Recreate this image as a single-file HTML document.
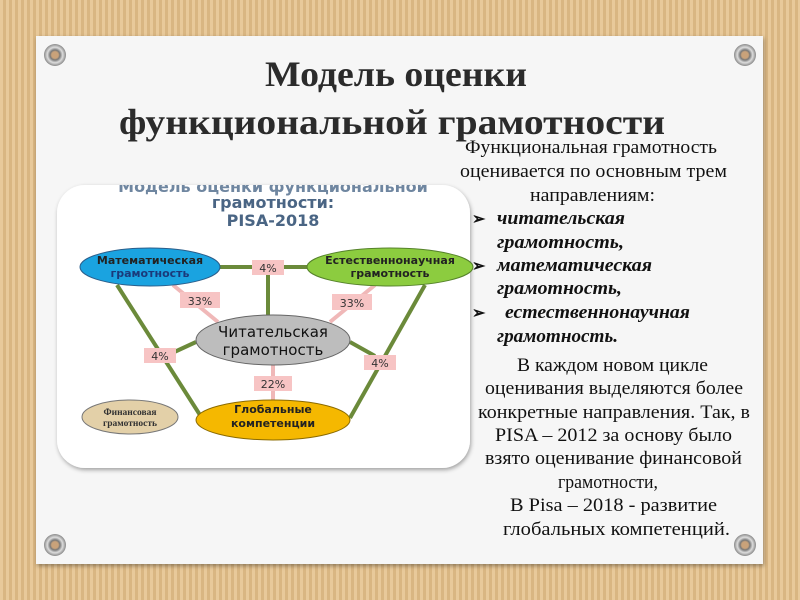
<!DOCTYPE html>
<html><head><meta charset="utf-8"><style>
html,body{margin:0;padding:0;width:800px;height:600px;overflow:hidden;}
body{background:#e2c08f;background-image:repeating-linear-gradient(90deg,#e8c99a 0 3px,#d9b682 3px 6px);}
</style></head><body>
<svg width="800" height="600" viewBox="0 0 800 600" xmlns="http://www.w3.org/2000/svg" style="position:absolute;left:0;top:0">
<defs>
<filter id="sh" x="-5%" y="-5%" width="110%" height="110%"><feDropShadow dx="1" dy="2" stdDeviation="2" flood-color="#000" flood-opacity="0.35"/></filter>
<radialGradient id="gr"><stop offset="0.3" stop-color="#c9a27a"/><stop offset="0.45" stop-color="#777"/><stop offset="0.7" stop-color="#ddd"/><stop offset="1" stop-color="#888"/></radialGradient>
<clipPath id="card"><rect x="57" y="185" width="413" height="283" rx="28"/></clipPath>
</defs>
<rect x="36" y="36" width="727" height="528" fill="#f6f6f6" filter="url(#sh)"/>
<g fill="url(#gr)">
<circle cx="55" cy="55" r="11"/><circle cx="745" cy="55" r="11"/><circle cx="55" cy="545" r="11"/><circle cx="745" cy="545" r="11"/>
</g>
<g font-family="Liberation Serif, serif" font-weight="bold" fill="#2b2b2b" font-size="36" text-anchor="middle">
<text x="396" y="86" textLength="262" lengthAdjust="spacingAndGlyphs">Модель оценки</text>
<text x="392" y="134" textLength="546" lengthAdjust="spacingAndGlyphs">функциональной грамотности</text>
</g>
<rect x="57" y="185" width="413" height="283" rx="28" fill="#fff" filter="url(#sh)"/>
<g clip-path="url(#card)" font-family="DejaVu Sans, sans-serif" font-weight="bold" fill="#4a6584" text-anchor="middle">
<text x="273" y="192" font-size="16" fill="#6f86a0">Модель оценки функциональной</text>
<text x="273" y="208" font-size="16">грамотности:</text>
<text x="273" y="226" font-size="16">PISA-2018</text>
</g>
<g stroke="#6b8a3a" stroke-width="4" fill="none">
<line x1="200" y1="267" x2="320" y2="267"/>
<line x1="268" y1="267" x2="268" y2="318"/>
<line x1="117" y1="285" x2="200" y2="415"/>
<line x1="425" y1="285" x2="350" y2="418"/>
<line x1="196" y1="342" x2="170" y2="354"/>
<line x1="350" y1="342" x2="375" y2="356"/>
</g>
<g stroke="#f0b8b8" stroke-width="4">
<line x1="173" y1="285" x2="218" y2="322"/>
<line x1="375" y1="285" x2="330" y2="322"/>
<line x1="273" y1="362" x2="273" y2="400"/>
</g>
<ellipse cx="150" cy="267" rx="70" ry="19" fill="#1aa3e0" stroke="#2a5d8a" stroke-width="1"/>
<ellipse cx="390" cy="267" rx="83" ry="19" fill="#8ccc3f" stroke="#55822a" stroke-width="1"/>
<ellipse cx="273" cy="340" rx="77" ry="25" fill="#bdbdbd" stroke="#666" stroke-width="1"/>
<ellipse cx="273" cy="420" rx="77" ry="20" fill="#f5b800" stroke="#8a6a00" stroke-width="1"/>
<ellipse cx="130" cy="417" rx="48" ry="17" fill="#e3d0a8" stroke="#777" stroke-width="1"/>
<g fill="#f7c4c4">
<rect x="252" y="260" width="32" height="15"/>
<rect x="180" y="292" width="40" height="16"/>
<rect x="332" y="294" width="40" height="16"/>
<rect x="144" y="348" width="32" height="15"/>
<rect x="364" y="355" width="32" height="15"/>
<rect x="254" y="376" width="38" height="15"/>
</g>
<g font-family="DejaVu Sans, sans-serif" font-size="11" fill="#333" text-anchor="middle">
<text x="268" y="272">4%</text>
<text x="200" y="305">33%</text>
<text x="352" y="307">33%</text>
<text x="160" y="360">4%</text>
<text x="380" y="367">4%</text>
<text x="273" y="388">22%</text>
</g>
<g font-family="DejaVu Sans, sans-serif" font-weight="bold" font-size="11" text-anchor="middle">
<text x="150" y="264" fill="#222">Математическая</text>
<text x="150" y="277" fill="#1a3a7a">грамотность</text>
<text x="390" y="264" fill="#222">Естественнонаучная</text>
<text x="390" y="277" fill="#222">грамотность</text>
<text x="273" y="413" fill="#222">Глобальные</text>
<text x="273" y="427" fill="#222">компетенции</text>
</g>
<g font-family="DejaVu Sans, sans-serif" font-size="15" fill="#111" text-anchor="middle">
<text x="273" y="337">Читательская</text>
<text x="273" y="355">грамотность</text>
</g>
<g font-family="Liberation Serif, serif" font-weight="bold" font-size="9.5" fill="#333" text-anchor="middle">
<text x="130" y="415">Финансовая</text>
<text x="130" y="426">грамотность</text>
</g>
<g font-family="Liberation Serif, serif" font-size="19" fill="#111" lengthAdjust="spacingAndGlyphs">
<text x="465" y="153" textLength="252" lengthAdjust="spacingAndGlyphs">Функциональная грамотность</text>
<text x="460" y="177" textLength="267" lengthAdjust="spacingAndGlyphs">оценивается по основным трем</text>
<text x="530" y="201" textLength="125" lengthAdjust="spacingAndGlyphs">направлениям:</text>
<text x="517" y="371" textLength="191" lengthAdjust="spacingAndGlyphs">В каждом новом цикле</text>
<text x="485" y="394" textLength="258" lengthAdjust="spacingAndGlyphs">оценивания выделяются более</text>
<text x="478" y="418" textLength="272" lengthAdjust="spacingAndGlyphs">конкретные направления. Так, в</text>
<text x="495" y="441" textLength="237" lengthAdjust="spacingAndGlyphs">PISA – 2012 за основу было</text>
<text x="485" y="464" textLength="257" lengthAdjust="spacingAndGlyphs">взято оценивание финансовой</text>
<text x="558" y="488" textLength="100" lengthAdjust="spacingAndGlyphs">грамотности,</text>
<text x="510" y="511" textLength="207" lengthAdjust="spacingAndGlyphs">В Pisa – 2018  - развитие</text>
<text x="503" y="535" textLength="227" lengthAdjust="spacingAndGlyphs">глобальных компетенций.</text>
</g>
<g font-family="Liberation Serif, serif" font-size="19" font-style="italic" font-weight="bold" fill="#111">
<text x="472" y="224" font-style="normal" font-size="16">➢</text>
<text x="497" y="224" textLength="128" lengthAdjust="spacingAndGlyphs">читательская</text>
<text x="497" y="248" textLength="127" lengthAdjust="spacingAndGlyphs">грамотность,</text>
<text x="472" y="271" font-style="normal" font-size="16">➢</text>
<text x="497" y="271" textLength="155" lengthAdjust="spacingAndGlyphs">математическая</text>
<text x="497" y="294" textLength="125" lengthAdjust="spacingAndGlyphs">грамотность,</text>
<text x="472" y="318" font-style="normal" font-size="16">➢</text>
<text x="505" y="318" textLength="185" lengthAdjust="spacingAndGlyphs">естественнонаучная</text>
<text x="497" y="342" textLength="121" lengthAdjust="spacingAndGlyphs">грамотность.</text>
</g>
</svg>
</body></html>
